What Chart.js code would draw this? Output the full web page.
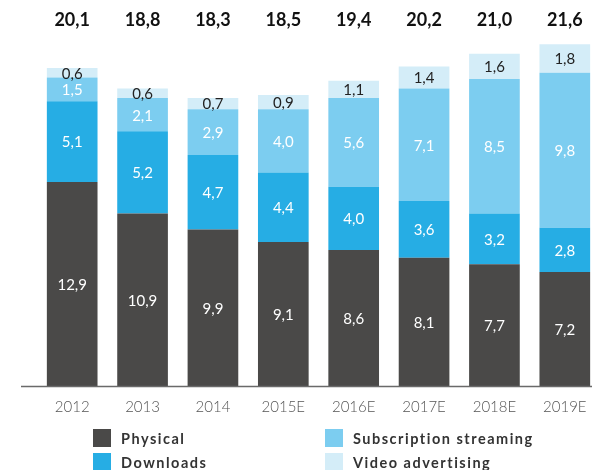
<!DOCTYPE html>
<html>
<head>
<meta charset="utf-8">
<script src="https://cdn.jsdelivr.net/npm/chart.js@4/dist/chart.umd.min.js"></script>
<style>
  html, body { margin: 0; padding: 0; background: #fff; width: 592px; height: 470px; overflow: hidden; }
  #wrap { position: relative; width: 620px; height: 470px; }
  #legend { position: absolute; left: 0; top: 0; width: 592px; height: 470px; pointer-events: none;
            font-family: Lato, "DejaVu Sans", sans-serif; }
  .li { position: absolute; display: flex; align-items: center; font-weight: bold; font-size: 14.5px;
        letter-spacing: 1.5px; color: #333; }
  .sw { width: 18px; height: 18px; margin-right: 10px; }
</style>
</head>
<body>
<div id="wrap">
  <canvas id="c" width="620" height="470" style="width:620px;height:470px"></canvas>
  <div id="legend"></div>
</div>
<script>
const categories = ["2012", "2013", "2014", "2015E", "2016E", "2017E", "2018E", "2019E"];
const physical = [12.9, 10.9, 9.9, 9.1, 8.6, 8.1, 7.7, 7.2];
const downloads = [5.1, 5.2, 4.7, 4.4, 4.0, 3.6, 3.2, 2.8];
const subscription = [1.5, 2.1, 2.9, 4.0, 5.6, 7.1, 8.5, 9.8];
const videoAds = [0.6, 0.6, 0.7, 0.9, 1.1, 1.4, 1.6, 1.8];
const totals = [20.1, 18.8, 18.3, 18.5, 19.4, 20.2, 21.0, 21.6];
const seriesNames = ["Physical", "Downloads", "Subscription streaming", "Video advertising"];
const seriesColors = ["#4a4948", "#26ade4", "#7ccdf0", "#d4edf8"];
const labelColors = ["#ffffff", "#ffffff", "#ffffff", "#222222"];

const fmt = v => v.toFixed(1).replace(".", ",");
const FONT = 'Lato, "DejaVu Sans", sans-serif';

const labelsPlugin = {
  id: "segLabels",
  afterDatasetsDraw(chart) {
    const ctx = chart.ctx;
    ctx.save();
    ctx.textAlign = "center";
    ctx.textBaseline = "middle";
    chart.data.datasets.forEach((ds, di) => {
      const meta = chart.getDatasetMeta(di);
      meta.data.forEach((bar, i) => {
        const y = (bar.y + bar.base) / 2;
        ctx.font = "15px " + FONT;
        ctx.fillStyle = labelColors[di];
        ctx.fillText(fmt(ds.data[i]), bar.x, y + 1);
      });
    });
    // totals
    const ys = chart.scales.y;
    const meta0 = chart.getDatasetMeta(0);
    ctx.font = "bold 18px " + FONT;
    ctx.fillStyle = "#111";
    totals.forEach((t, i) => {
      ctx.fillText(fmt(t), meta0.data[i].x, ys.getPixelForValue(23.1));
    });
    // baseline
    const y0 = Math.round(ys.getPixelForValue(0)) + 0.5;
    ctx.strokeStyle = "#6a6a6a";
    ctx.lineWidth = 1.5;
    ctx.beginPath();
    ctx.moveTo(21, y0);
    ctx.lineTo(chart.width, y0);
    ctx.stroke();
    ctx.restore();
  }
};

const data = {
  labels: categories,
  datasets: [physical, downloads, subscription, videoAds].map((arr, k) => ({
    label: seriesNames[k],
    data: arr,
    backgroundColor: seriesColors[k],
    borderWidth: 0,
    barPercentage: 0.72,
    categoryPercentage: 1.0
  }))
};

new Chart(document.getElementById("c"), {
  type: "bar",
  data,
  options: {
    responsive: false,
    animation: false,
    layout: { padding: { left: 37, right: 20, top: 0, bottom: 50 } },
    plugins: { legend: { display: false }, tooltip: { enabled: false } },
    scales: {
      x: {
        stacked: true,
        grid: { display: false, drawTicks: false },
        border: { display: false },
        ticks: { color: "#555", font: { family: FONT, size: 15, weight: "300" }, padding: 12 },
        afterFit(s) { s.height = 34; }
      },
      y: {
        stacked: true,
        display: false,
        min: 0,
        max: 24.4
      }
    }
  },
  plugins: [labelsPlugin]
});

// HTML legend built from series arrays
const legend = document.getElementById("legend");
const pos = [[93, 438], [93, 462], [325, 438], [325, 462]];
seriesNames.forEach((n, k) => {
  const d = document.createElement("div");
  d.className = "li";
  d.style.left = pos[k][0] + "px";
  d.style.top = (pos[k][1] - 10) + "px";
  d.style.height = "20px";
  d.innerHTML = '<span class="sw" style="background:' + seriesColors[k] + '"></span>' + n;
  legend.appendChild(d);
});
</script>
</body>
</html>
